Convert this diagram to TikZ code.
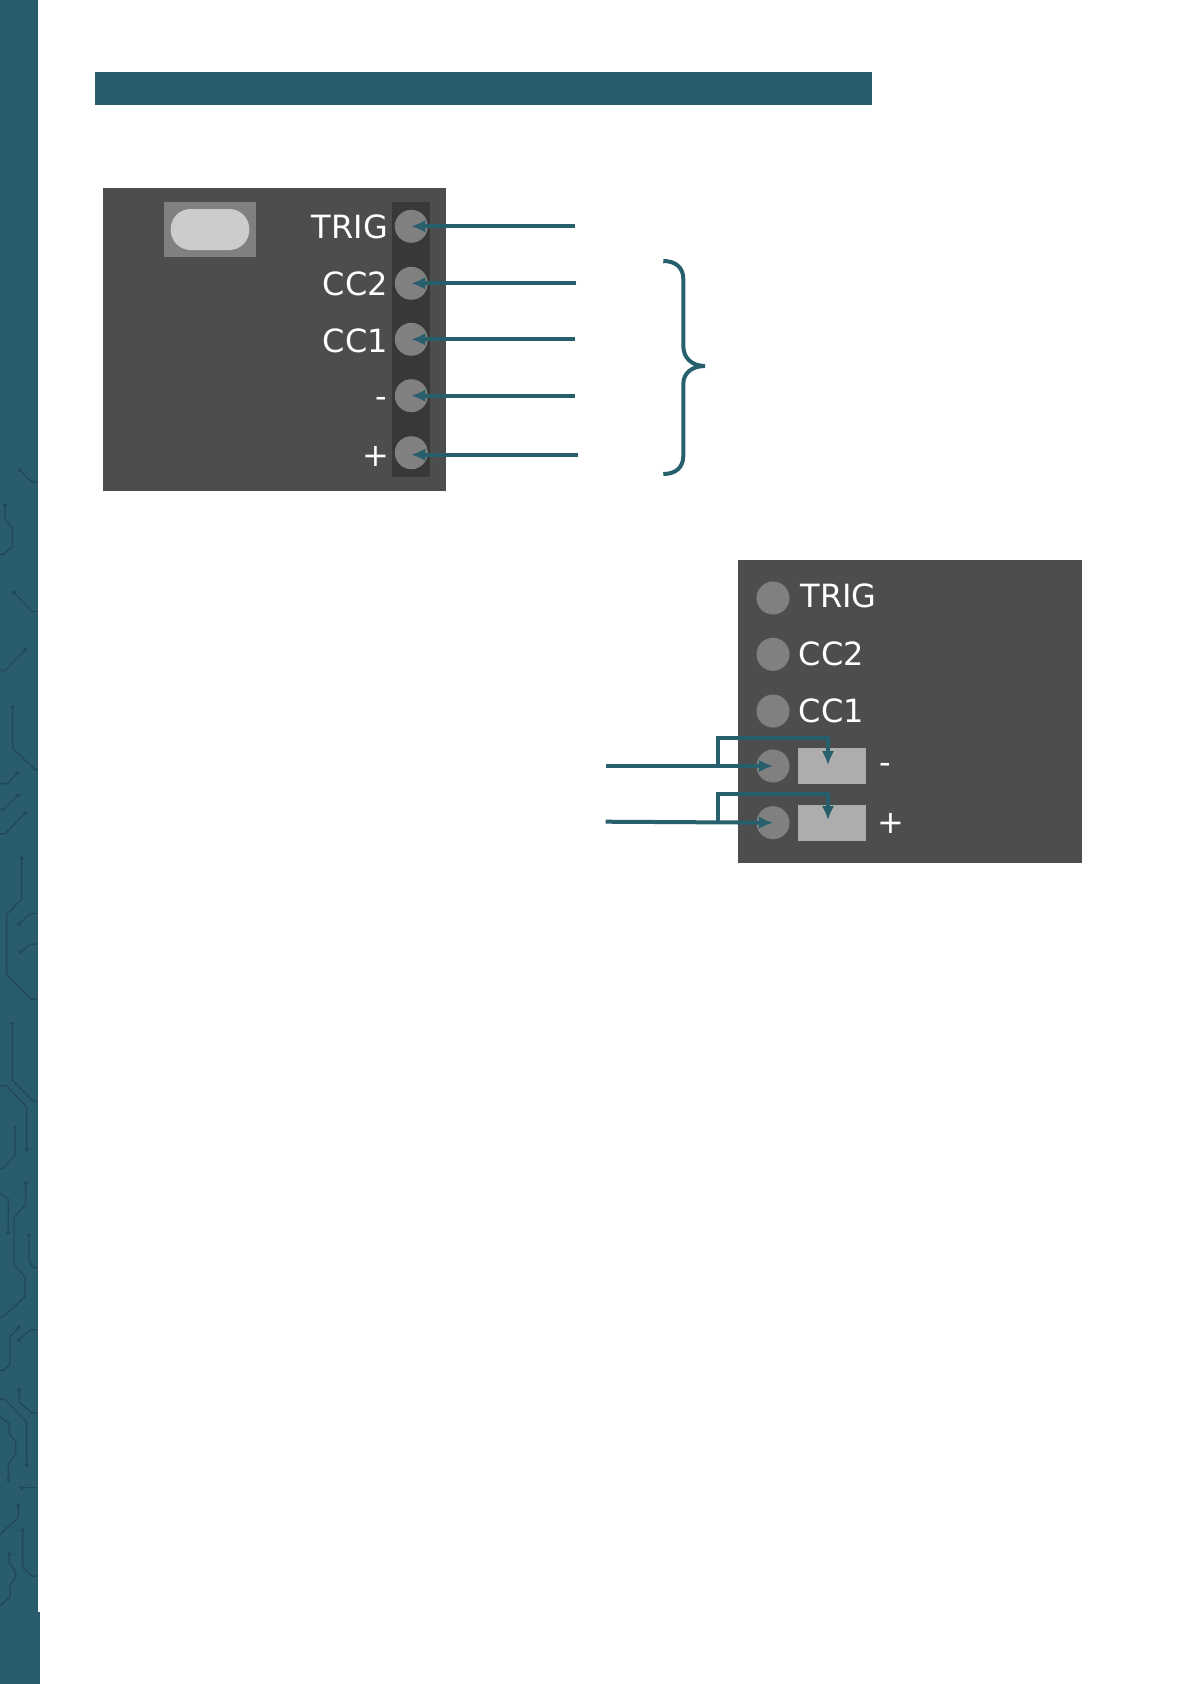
\documentclass[tikz,border=0pt]{standalone}
\usepackage{fontspec}
\setmainfont{DejaVu Sans}
\usepackage{tikz}
\usetikzlibrary{arrows.meta,positioning}
\definecolor{teal}{HTML}{2A5D6B}
\definecolor{tealdark}{HTML}{22485F}
\definecolor{wire}{HTML}{285F6D}
\definecolor{panel}{HTML}{4D4D4D}
\definecolor{strip}{HTML}{383838}
\definecolor{pingray}{HTML}{808080}
\definecolor{pillgray}{HTML}{CCCCCC}
\definecolor{padgray}{HTML}{ADADAD}

\begin{document}
\begin{tikzpicture}[
    x=1pt, y=-1pt,
    pin/.style={circle, fill=pingray, inner sep=0pt, minimum size=33pt},
    padbox/.style={rectangle, fill=padgray, inner sep=0pt, minimum width=68pt, minimum height=36.5pt},
    label/.style={text=white, inner sep=0pt, font=\fontsize{32}{38}\selectfont},
    arrow/.style={-{Latex[length=14pt,width=12.5pt]}, line width=4pt, color=wire},
    trace/.style={{Circle[length=4pt]}-, line width=1.4pt, color=tealdark}
]
\useasboundingbox (0,0) rectangle (1191,1684);

% sidebar and title bar
\fill[teal] (0,0) rectangle (38,1612);
\fill[teal] (0,1612) rectangle (40,1684);
\fill[teal] (94.5,72) rectangle (872,105);

% circuit traces on the sidebar
\begin{scope}[x=0.3333pt, y=-0.4082pt, shift={(0,-440pt)}]
\draw[trace] (55,70) -- (95,103) -- (114,103);
\draw[trace] (15,155) -- (15,195) -- (37,215) -- (37,262) -- (10,280) -- (0,280);
\draw[trace] (38,370) -- (95,420) -- (114,420);
\draw[trace] (80,510) -- (15,565) -- (0,565);
\draw[trace] (38,650) -- (38,755) -- (105,808) -- (114,808);
\draw[trace] (55,813) -- (22,842) -- (0,842);
\draw[trace] (58,867) -- (10,905) -- (0,905);
\draw[trace] (80,910) -- (15,965) -- (0,965);
\draw[trace] (65,1020) -- (65,1125) -- (20,1162) -- (20,1310) -- (95,1370) -- (114,1370);
\draw[trace] (52,1190) -- (90,1160) -- (114,1160);
\draw[trace] (58,1258) -- (90,1235) -- (114,1235);
\draw[trace] (37,1425) -- (37,1568) -- (100,1620) -- (114,1620);
\end{scope}
\begin{scope}[x=0.3333pt, y=-0.3979pt, shift={(0,-1060pt)}]
\draw[trace] (80,230) -- (80,118) -- (20,65) -- (0,65);
\draw[trace] (45,165) -- (45,240) -- (10,272) -- (0,272);
\draw[trace] (25,438) -- (25,350) -- (0,335);
\draw[trace] (77,305) -- (77,365) -- (42,395) -- (42,515) -- (75,545) -- (75,595) -- (10,645) -- (0,645);
\draw[trace] (87,435) -- (87,505) -- (100,522) -- (114,522);
\draw[trace] (60,668) -- (30,695) -- (30,765) -- (10,780) -- (0,780);
\draw[trace] (52,707) -- (90,678) -- (114,678);
\draw[trace] (58,825) -- (58,860) -- (95,887) -- (114,887);
\draw[trace] (80,1022) -- (80,910) -- (15,853) -- (0,853);
\draw[trace] (25,1060) -- (25,1015) -- (47,990) -- (47,958) -- (28,940) -- (28,915) -- (0,895);
\draw[trace] (58,1075) -- (114,1075);
\draw[trace] (55,1115) -- (55,1150) -- (0,1192);
\draw[trace] (68,1177) -- (68,1275) -- (95,1297) -- (114,1297);
\draw[trace] (28,1237) -- (28,1265) -- (47,1285) -- (47,1300) -- (30,1320) -- (30,1350) -- (0,1372);
\end{scope}

% upper board
\fill[panel] (102.7,187.5) rectangle (446,491);
\fill[pingray] (163.7,202) rectangle (256,256.7);
\fill[pillgray, rounded corners=20pt] (170.7,209) rectangle (249.3,250);
\fill[strip] (392.3,202) rectangle (430,476.7);

\node[pin] (trigpin) at (411.3,226.3) {};
\node[pin] (cctwopin) at (411.3,283.3) {};
\node[pin] (cconepin) at (411.3,339.3) {};
\node[pin] (minuspin) at (411.3,395.7) {};
\node[pin] (pluspin) at (411.3,452.7) {};

\node[label, anchor=base east] (triglabel) at (388,238) {TRIG};
\node[label, anchor=base east] (cctwolabel) at (388,295) {CC2};
\node[label, anchor=base east] (cconelabel) at (388,352) {CC1};
\node[label, anchor=base east] (minuslabel) at (387,407) {-};
\node[label, anchor=base east] (pluslabel) at (389.5,466) {+};

\coordinate (trigend) at (575.3,226.3);
\coordinate (cctwoend) at (576,283.3);
\coordinate (cconeend) at (575.3,339.3);
\coordinate (minusend) at (575.3,395.7);
\coordinate (plusend) at (578,454.7);
\draw[arrow] (trigend) -- (trigpin.center);
\draw[arrow] (cctwoend) -- (cctwopin.center);
\draw[arrow] (cconeend) -- (cconepin.center);
\draw[arrow] (minusend) -- (minuspin.center);
\draw[arrow] (plusend) -- ([yshift=-2pt]pluspin.center);

% brace
\draw[line width=4pt, color=wire] (663.3,261) .. controls (675,261) and (683.3,267) .. (683.3,279)
    -- (683.3,346) .. controls (683.3,358) and (692,366) .. (705,366)
    .. controls (692,366) and (683.3,373) .. (683.3,384)
    -- (683.3,456) .. controls (683.3,468) and (675,474) .. (663.3,474);

% lower board
\fill[panel] (738.3,560) rectangle (1082,862.7);

\node[pin] (trigpad) at (773,598) {};
\node[pin] (cctwopad) at (773,654.3) {};
\node[pin] (cconepad) at (773,711) {};
\node[pin] (minuspad) at (773,766) {};
\node[pin] (pluspad) at (773,822.7) {};
\node[padbox] (minusbox) at (832,766) {};
\node[padbox] (plusbox) at (832,823) {};

\node[label, anchor=base west] (trigtext) at (800.5,607.3) {TRIG};
\node[label, anchor=base west] (cctwotext) at (798.5,665) {CC2};
\node[label, anchor=base west] (cconetext) at (798.5,722) {CC1};
\node[label, anchor=base west] (minustext) at (879,773) {-};
\node[label, anchor=base west] (plustext) at (877,833) {+};

\coordinate (minusstart) at (605.7,766);
\coordinate (plusstart) at (605.7,821.7);
\coordinate (minustap) at (718,766);
\coordinate (plustap) at (718,821.7);
\coordinate (minusover) at (828,738);
\coordinate (plusover) at (828,794);
\coordinate (minustip) at (828,765);
\coordinate (plustip) at (828,820);
\draw[arrow] (minusstart) -- (minuspad.center);
\draw[arrow] (plusstart) -- (pluspad.center);
\draw[arrow] (minustap) |- (minusover) -- (minustip);
\draw[arrow] (plustap) |- (plusover) -- (plustip);
\end{tikzpicture}
\end{document}
